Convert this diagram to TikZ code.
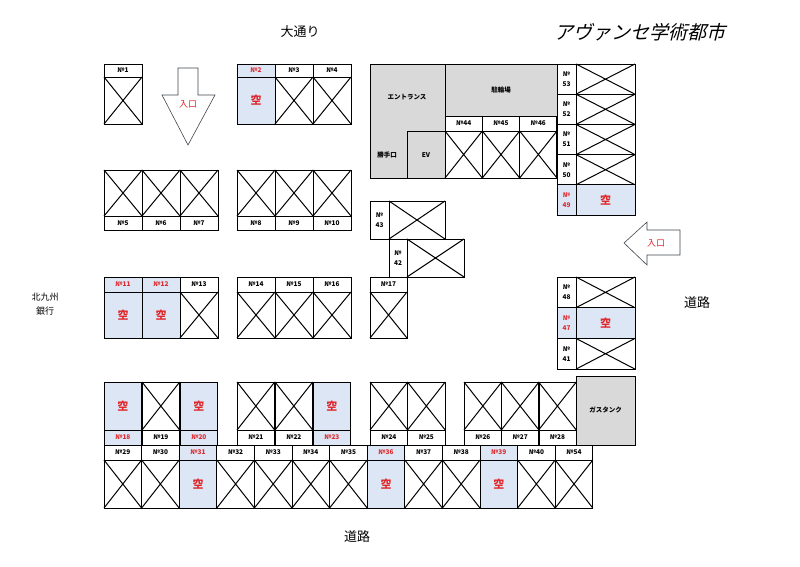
\documentclass[tikz,border=0pt]{standalone}
\usepackage{fontspec}
\setmainfont{Noto Sans CJK JP}
\newfontfamily\jpit[FakeSlant=0.25]{Noto Sans CJK JP}
\usetikzlibrary{calc}
\definecolor{freeblue}{HTML}{DCE6F5}
\definecolor{roomgray}{HTML}{D9D9D9}
\definecolor{kuured}{HTML}{E0282C}

\begin{document}
\begin{tikzpicture}[x=1pt,y=-1pt]
  % Define styles
  \tikzset{box/.style={draw=black, line width=1pt},
    cross/.style={line width=1pt},
    kuu/.style={text=kuured, font=\fontsize{11}{12}\selectfont\bfseries},
    numtxt/.style={font=\fontsize{6.5}{8}\selectfont\bfseries, align=center},
    room/.style={draw=black, line width=1pt, fill=roomgray},
    roomtxt/.style={font=\fontsize{6.5}{8}\selectfont\bfseries},
    gate/.style={draw=black!80!cyan, line width=0.6pt, fill=white},
    gatetxt/.style={text=kuured, font=\fontsize{9}{10}\selectfont},
    street/.style={font=\fontsize{13}{15}\selectfont}}
  % spot: x0,y0,x1,y1,free
  \newcommand{\spot}[5]{%
    \ifnum#5=1
      \fill[freeblue] (#1,#2) rectangle (#3,#4);
      \node[kuu] at ($(#1,#2)!0.5!(#3,#4)$) {空};
    \else
      \draw[cross] (#1,#2) -- (#3,#4) (#1,#4) -- (#3,#2);
    \fi
    \draw[box] (#1,#2) rectangle (#3,#4);}
  % number cell: x0,y0,x1,y1,text,free
  \newcommand{\num}[6]{%
    \ifnum#6=1
      \draw[box, fill=freeblue] (#1,#2) rectangle (#3,#4);
      \node[numtxt, text=kuured] at ($(#1,#2)!0.5!(#3,#4)$) {#5};
    \else
      \draw[box] (#1,#2) rectangle (#3,#4);
      \node[numtxt] at ($(#1,#2)!0.5!(#3,#4)$) {#5};
    \fi}

  \useasboundingbox (0,0) rectangle (800,566);

  % Street names and title
  \node[street] (oodori) at (300,32) {大通り};
  \node[font=\fontsize{19}{21}\selectfont\jpit] (title) at (640,32) {アヴァンセ学術都市};
  \node[font=\fontsize{9}{11}\selectfont, align=center] (bank) at (45,304) {北九州\\[3pt]銀行};
  \node[street] (roadE) at (697,303) {道路};
  \node[street] (roadS) at (357,537) {道路};

  % Entrance arrows
  \draw[gate] (178,68) -- (198,68) -- (198,95) -- (215,95) -- (188,145) -- (162,95) -- (178,95) -- cycle;
  \node[gatetxt] (inN) at (188,104) {入口};
  \draw[gate] (680,230) -- (680,255) -- (647,255) -- (647,265) -- (624,243) -- (647,222) -- (647,230) -- cycle;
  \node[gatetxt] (inE) at (656,243) {入口};

  % Building
  \draw[room] (370,64) rectangle (445,178);
  \draw[room] (445,64) rectangle (557,116);
  \draw[room] (407,131) rectangle (445,178);
  \node[roomtxt] (ent) at (407,97) {エントランス};
  \node[roomtxt] (bike) at (501,90) {駐輪場};
  \node[roomtxt] (back) at (387,155) {勝手口};
  \node[roomtxt] (ev) at (426,155) {EV};
  \draw[room] (576,376) rectangle (635,445);
  \node[roomtxt] (gas) at (605.5,410) {ガスタンク};

  % Top rows, number on top
  \num{104}{64}{142}{77}{№1}{0}
  \spot{104}{77}{142}{124}{0}
  \foreach \i/\n/\f in {0/2/1,1/3/0,2/4/0}{
    \pgfmathsetmacro\xa{237+38*\i}\pgfmathsetmacro\xb{\xa+38}
    \num{\xa}{64}{\xb}{77}{№\n}{\f}
    \spot{\xa}{77}{\xb}{124}{\f}}
  \foreach \i/\n in {0/44,1/45,2/46}{
    \pgfmathsetmacro\xa{445+37.33*\i}\pgfmathsetmacro\xb{\xa+37.33}
    \num{\xa}{116}{\xb}{131}{№\n}{0}
    \spot{\xa}{131}{\xb}{178}{0}}

  % Second row, number below
  \foreach \i/\n in {0/5,1/6,2/7}{
    \pgfmathsetmacro\xa{104+38*\i}\pgfmathsetmacro\xb{\xa+38}
    \spot{\xa}{170}{\xb}{216}{0}
    \num{\xa}{216}{\xb}{230}{№\n}{0}}
  \foreach \i/\n in {0/8,1/9,2/10}{
    \pgfmathsetmacro\xa{237+38*\i}\pgfmathsetmacro\xb{\xa+38}
    \spot{\xa}{170}{\xb}{216}{0}
    \num{\xa}{216}{\xb}{230}{№\n}{0}}

  % Right column, number at left
  \foreach \i/\n/\f in {0/53/0,1/52/0,2/51/0,3/50/0,4/49/1}{
    \pgfmathsetmacro\ya{64+30.2*\i}\pgfmathsetmacro\yb{\ya+30.2}
    \num{557}{\ya}{576}{\yb}{№\\[2pt]\n}{\f}
    \spot{576}{\ya}{635}{\yb}{\f}}
  \foreach \i/\n/\f in {0/48/0,1/47/1,2/41/0}{
    \pgfmathsetmacro\ya{277+30.7*\i}\pgfmathsetmacro\yb{\ya+30.7}
    \num{557}{\ya}{576}{\yb}{№\\[2pt]\n}{\f}
    \spot{576}{\ya}{635}{\yb}{\f}}
  \num{370}{201}{389}{239}{№\\[2pt]43}{0}
  \spot{389}{201}{445}{239}{0}
  \num{389}{239}{407}{277}{№\\[2pt]42}{0}
  \spot{407}{239}{464}{277}{0}

  % Third row, number on top
  \foreach \i/\n/\f in {0/11/1,1/12/1,2/13/0}{
    \pgfmathsetmacro\xa{104+38*\i}\pgfmathsetmacro\xb{\xa+38}
    \num{\xa}{277}{\xb}{292}{№\n}{\f}
    \spot{\xa}{292}{\xb}{338}{\f}}
  \foreach \i/\n in {0/14,1/15,2/16}{
    \pgfmathsetmacro\xa{237+38*\i}\pgfmathsetmacro\xb{\xa+38}
    \num{\xa}{277}{\xb}{292}{№\n}{0}
    \spot{\xa}{292}{\xb}{338}{0}}
  \num{370}{277}{407}{292}{№17}{0}
  \spot{370}{292}{407}{338}{0}

  % Fourth row, number below
  \foreach \x/\n/\f in {104/18/1,142/19/0,180/20/1,237/21/0,275/22/0,313/23/1,370/24/0,407.5/25/0,464/26/0,501.3/27/0,538.6/28/0}{
    \pgfmathsetmacro\xb{\x+37.7}
    \spot{\x}{382}{\xb}{430}{\f}
    \num{\x}{430}{\xb}{445}{№\n}{\f}}

  % Bottom row, number on top
  \foreach \i/\n/\f in {0/29/0,1/30/0,2/31/1,3/32/0,4/33/0,5/34/0,6/35/0,7/36/1,8/37/0,9/38/0,10/39/1,11/40/0,12/54/0}{
    \pgfmathsetmacro\xa{104+37.6*\i}\pgfmathsetmacro\xb{\xa+37.6}
    \num{\xa}{445}{\xb}{460}{№\n}{\f}
    \spot{\xa}{460}{\xb}{508}{\f}}
\end{tikzpicture}
\end{document}
